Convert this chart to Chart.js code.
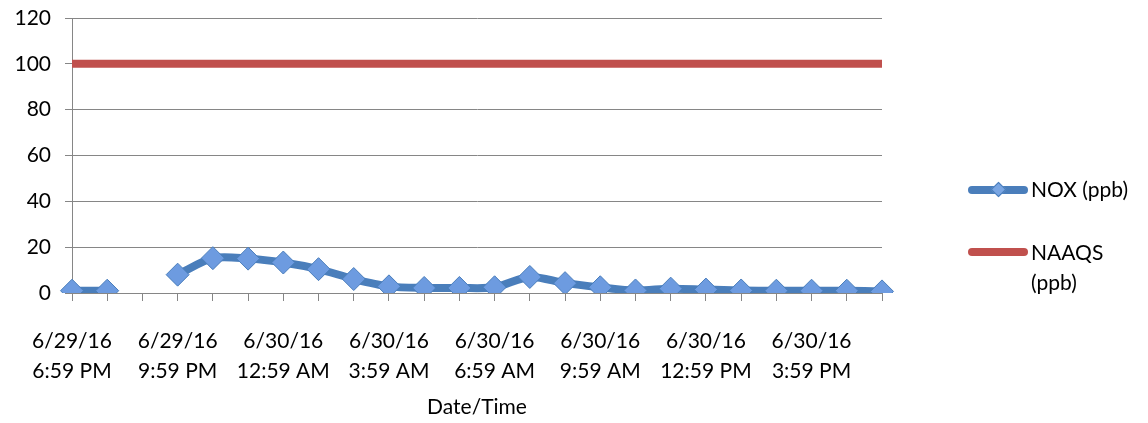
<!DOCTYPE html>
<html>
<head>
<meta charset="utf-8">
<script src="https://cdn.jsdelivr.net/npm/chart.js@4.4.0/dist/chart.umd.min.js"></script>
<style>
  body { margin: 0; background: #fff; font-family: Lato, sans-serif; }
  #wrap { position: relative; width: 1148px; height: 423px; }
  .lg-line { position: absolute; left: 968px; width: 60px; height: 8px; border-radius: 4px; }
  .lg-text { position: absolute; left: 1031px; font-size: 21px; line-height: 30px; color: #000; }
  .lg-dia { position: absolute; width: 9px; height: 9px; background: #7aa6e3; border: 1px solid #4a7ebb; transform: rotate(45deg); }
</style>
</head>
<body>
<div id="wrap">
  <canvas id="chart" width="1148" height="423"></canvas>
  <div class="lg-line" style="top:186px;background:#4a7ebb"></div>
  <div class="lg-dia" style="left:993px;top:184px"></div>
  <div class="lg-text" style="top:174px">NOX (ppb)</div>
  <div class="lg-line" style="top:248px;background:#c0504d"></div>
  <div class="lg-text" style="top:237px">NAAQS<br>(ppb)</div>
</div>
<script>
// hourly readings
const categories = [
  "6/29/16 6:59 PM", "6/29/16 7:59 PM", "6/29/16 8:59 PM",
  "6/29/16 9:59 PM", "6/29/16 10:59 PM", "6/29/16 11:59 PM",
  "6/30/16 12:59 AM", "6/30/16 1:59 AM", "6/30/16 2:59 AM",
  "6/30/16 3:59 AM", "6/30/16 4:59 AM", "6/30/16 5:59 AM",
  "6/30/16 6:59 AM", "6/30/16 7:59 AM", "6/30/16 8:59 AM",
  "6/30/16 9:59 AM", "6/30/16 10:59 AM", "6/30/16 11:59 AM",
  "6/30/16 12:59 PM", "6/30/16 1:59 PM", "6/30/16 2:59 PM",
  "6/30/16 3:59 PM", "6/30/16 4:59 PM", "6/30/16 5:59 PM"
];
const noxValues = [1, 1, null, 8, 15.2, 15, 13.3, 10.4, 6.1, 2.9, 2.2, 2.2,
  2.5, 7, 4.3, 2.5, 1.1, 1.9, 1.5, 1.1, 1, 1, 1, 0.7];
const naaqsValues = [100, 100, 100, 100, 100, 100, 100, 100, 100, 100, 100, 100,
  100, 100, 100, 100, 100, 100, 100, 100, 100, 100, 100, 100];
const yTicks = [0, 20, 40, 60, 80, 100, 120];

const axisGrey = "#868686";
const font = { family: "Lato", size: 21 };

function tickLabel(i) {
  if (i % 3 !== 0) return "";
  const s = categories[i];
  const k = s.indexOf(" ");
  return [s.slice(0, k), s.slice(k + 1)];
}

const ctx = document.getElementById("chart").getContext("2d");
const chart = new Chart(ctx, {
  type: "line",
  data: {
    labels: categories,
    datasets: [
      {
        label: "NOX (ppb)",
        data: noxValues,
        borderColor: "#4a7ebb",
        borderWidth: 8,
        tension: 0.3,
        pointStyle: "rectRot",
        pointRadius: 11.5,
        pointBackgroundColor: "#6d9be0",
        pointBorderColor: "#4a7ebb",
        pointBorderWidth: 1,
        spanGaps: false
      },
      {
        label: "NAAQS (ppb)",
        data: naaqsValues,
        borderColor: "#c0504d",
        borderWidth: 8,
        pointRadius: 0
      }
    ]
  },
  options: {
    responsive: false,
    animation: false,
    layout: { padding: { top: 18, right: 266, left: 0, bottom: 0 } },
    plugins: { legend: { display: false }, tooltip: { enabled: false } },
    scales: {
      x: {
        offset: false,
        grid: { drawOnChartArea: false, drawTicks: true, tickLength: 8, color: axisGrey },
        border: { color: axisGrey, width: 1 },
        ticks: {
          autoSkip: false, maxRotation: 0, color: "#000",
          font: { ...font, lineHeight: 1.4 }, padding: 26,
          callback: (v, i) => tickLabel(i)
        },
        title: { display: true, text: "Date/Time", color: "#000", font: font, padding: { top: 0, bottom: 3 } },
        afterFit: s => { s.height = 130; s.paddingLeft = 0; s.paddingRight = 0; }
      },
      y: {
        min: 0, max: 120,
        afterBuildTicks: s => { s.ticks = yTicks.map(v => ({ value: v })); },
        grid: { color: axisGrey, tickLength: 7 },
        border: { color: axisGrey, width: 1 },
        ticks: { color: "#000", font: font, padding: 14 },
        afterFit: s => { s.width = 72; s.paddingTop = 0; s.paddingBottom = 0; }
      }
    }
  }
});
</script>
</body>
</html>
